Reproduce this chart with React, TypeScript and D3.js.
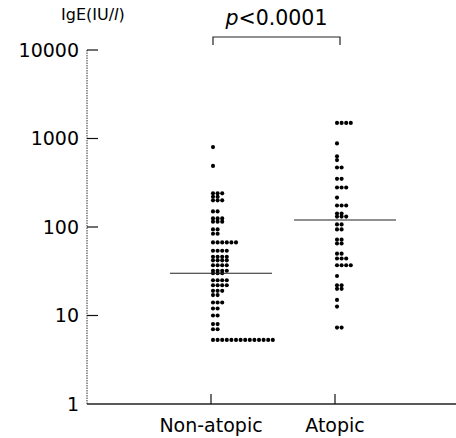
import { useEffect, useRef } from 'react';
import * as d3 from 'd3';

// groups on the x axis
const categories = ['Non-atopic', 'Atopic'];
const yTicks = [1, 10, 100, 1000, 10000];

// dot rows: IgE level and how many dots sit side by side at that level
const nonAtopicLevels = [800, 490, 240, 220, 200, 150, 125, 115, 94, 84, 67, 54, 46, 42, 37, 32, 30, 25, 22, 19, 17, 14, 12, 10, 8, 7, 5.3];
const nonAtopicCounts = [1, 1, 3, 2, 3, 2, 3, 3, 2, 2, 6, 4, 4, 4, 4, 4, 3, 4, 4, 3, 2, 3, 2, 2, 2, 2, 14];
const atopicLevels = [1500, 880, 630, 570, 470, 350, 280, 215, 175, 142, 131, 107, 94, 72, 65, 50, 44, 37, 28, 22, 20, 15, 12.6, 7.3];
const atopicCounts = [4, 1, 1, 1, 2, 2, 3, 1, 3, 2, 3, 2, 2, 2, 2, 2, 3, 4, 1, 2, 2, 1, 1, 2];
const medians = [30, 120];
const pLabel = '<0.0001';

export default function App() {
    const svgRef = useRef<SVGSVGElement>(null);

    useEffect(() => {
        const svg = d3.select(svgRef.current);
        svg.selectAll('*').remove();

        const W = 456;
        const H = 438;
        const axisX = 87;
        const font = 'DejaVu Sans, sans-serif';

        const y = d3.scaleLog().domain([1, 10000]).range([404, 50]);
        const x = d3.scalePoint<string>().domain(categories).range([211, 335]);

        const g = svg.append('g');

        // y axis (dotted scan look)
        g.append('line')
            .attr('x1', axisX).attr('x2', axisX)
            .attr('y1', y(10000)).attr('y2', y(1))
            .attr('stroke', '#333')
            .attr('stroke-width', 1)
            .attr('stroke-dasharray', '1.5,1');

        yTicks.forEach((t) => {
            if (t > 1) {
                g.append('line')
                    .attr('x1', axisX).attr('x2', axisX + 11)
                    .attr('y1', y(t)).attr('y2', y(t))
                    .attr('stroke', '#111')
                    .attr('stroke-width', 1.2);
            }
            g.append('text')
                .attr('x', 79)
                .attr('y', y(t))
                .attr('dy', '0.36em')
                .attr('text-anchor', 'end')
                .style('font-family', font)
                .style('font-size', '19px')
                .text(String(t));
        });

        // x axis
        g.append('line')
            .attr('x1', axisX).attr('x2', W)
            .attr('y1', y(1)).attr('y2', y(1))
            .attr('stroke', '#222')
            .attr('stroke-width', 1.3);

        categories.forEach((c) => {
            g.append('line')
                .attr('x1', x(c)!).attr('x2', x(c)!)
                .attr('y1', y(1)).attr('y2', y(1) - 10)
                .attr('stroke', '#111')
                .attr('stroke-width', 1.2);
            g.append('text')
                .attr('x', x(c)!)
                .attr('y', 432)
                .attr('text-anchor', 'middle')
                .style('font-family', font)
                .style('font-size', '19px')
                .text(c);
        });

        // y title
        const title = g.append('text')
            .attr('x', 61)
            .attr('y', 20)
            .style('font-family', font)
            .style('font-size', '16px');
        title.append('tspan').text('IgE(IU/');
        title.append('tspan').style('font-style', 'italic').text('l');
        title.append('tspan').text(')');

        // dots
        const groups = [
            { levels: nonAtopicLevels, counts: nonAtopicCounts },
            { levels: atopicLevels, counts: atopicCounts },
        ];
        const gap = 4.6;
        groups.forEach((grp, gi) => {
            const x0 = x(categories[gi])! + 2;
            const pts: { cx: number; cy: number }[] = [];
            grp.levels.forEach((v, i) => {
                d3.range(grp.counts[i]).forEach((k) => {
                    pts.push({ cx: x0 + k * gap, cy: y(v) });
                });
            });
            g.append('g')
                .selectAll('circle')
                .data(pts)
                .enter()
                .append('circle')
                .attr('cx', (d) => d.cx)
                .attr('cy', (d) => d.cy)
                .attr('r', 2.05)
                .attr('fill', '#000');

            // median line
            g.append('line')
                .attr('x1', x(categories[gi])! - 41)
                .attr('x2', x(categories[gi])! + 61)
                .attr('y1', y(medians[gi]))
                .attr('y2', y(medians[gi]))
                .attr('stroke', '#222')
                .attr('stroke-width', 1.2);
        });

        // significance bracket
        const bx1 = x(categories[0])! + 2;
        const bx2 = x(categories[1])! + 5;
        g.append('path')
            .attr('d', `M${bx1},45 V37 H${bx2} V45`)
            .attr('fill', 'none')
            .attr('stroke', '#222')
            .attr('stroke-width', 1.2);

        const p = g.append('text')
            .attr('x', (bx1 + bx2) / 2)
            .attr('y', 25)
            .attr('text-anchor', 'middle')
            .style('font-family', font)
            .style('font-size', '20.5px');
        p.append('tspan').style('font-style', 'italic').text('p');
        p.append('tspan').text(pLabel);

        svg.attr('width', W).attr('height', H);
    }, []);

    return (
        <svg
            ref={svgRef}
            width={456}
            height={438}
            style={{ position: 'absolute', left: 0, top: 0, background: '#fff' }}
        ></svg>
    );
}
